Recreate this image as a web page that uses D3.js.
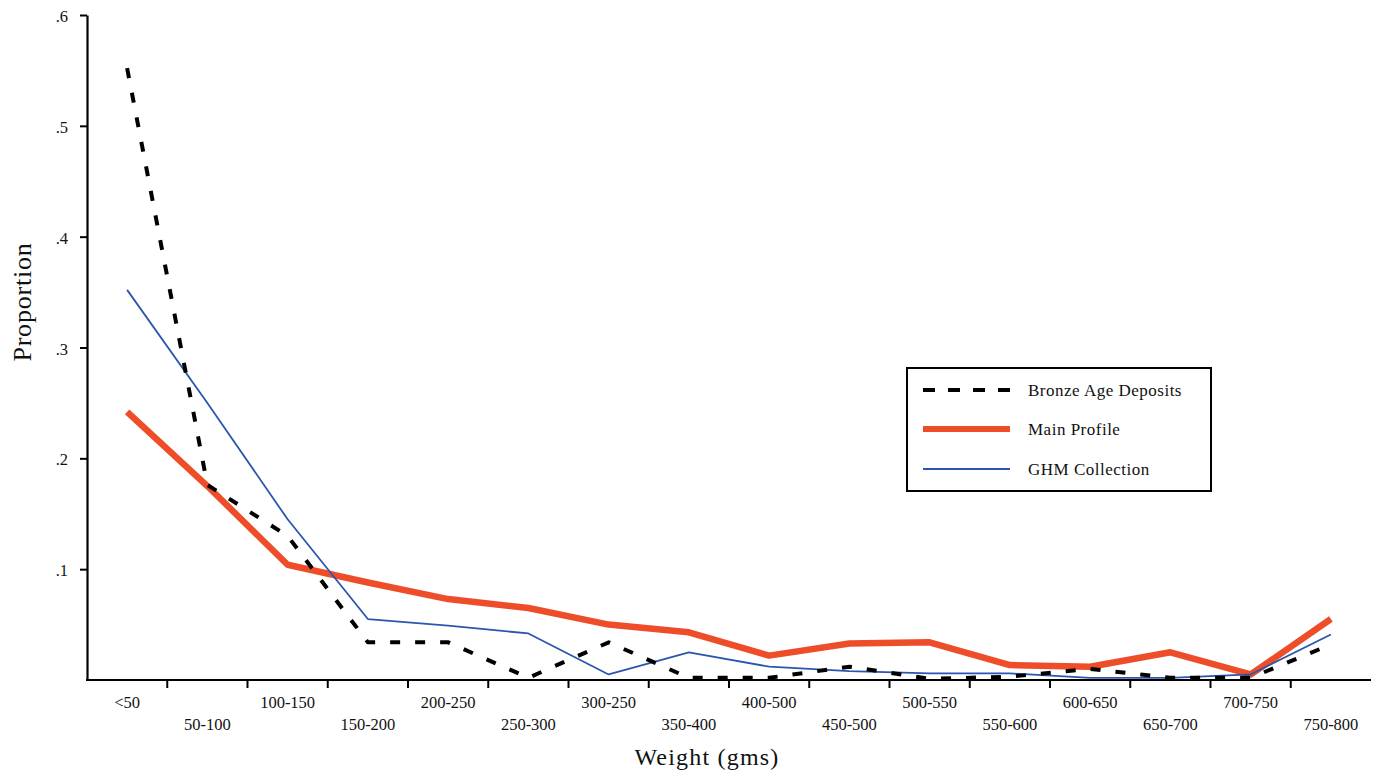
<!DOCTYPE html>
<html>
<head>
<meta charset="utf-8">
<script src="https://cdn.jsdelivr.net/npm/d3@7"></script>
<style>
  html, body { margin: 0; padding: 0; background: #fff; }
  svg { display: block; }
  text { font-family: "Liberation Serif", "Times New Roman", serif; fill: #111; }
</style>
</head>
<body>
<svg id="chart" width="1379" height="777"></svg>
<script>
const categories = ["<50","50-100","100-150","150-200","200-250","250-300","300-250","350-400",
  "400-500","450-500","500-550","550-600","600-650","650-700","700-750","750-800"];
const bronzeAge = [0.552, 0.176, 0.130, 0.034, 0.034, 0.002, 0.034, 0.002, 0.002, 0.012, 0.001, 0.003, 0.010, 0.002, 0.002, 0.032];
const mainProfile = [0.242, 0.175, 0.104, 0.088, 0.073, 0.065, 0.050, 0.043, 0.022, 0.033, 0.034, 0.0135, 0.012, 0.025, 0.005, 0.055];
const ghmCollection = [0.352, 0.250, 0.145, 0.055, 0.049, 0.042, 0.005, 0.025, 0.012, 0.008, 0.006, 0.006, 0.002, 0.002, 0.005, 0.041];
const yTicks = [0.1, 0.2, 0.3, 0.4, 0.5, 0.6];
const seriesNames = ["Bronze Age Deposits", "Main Profile", "GHM Collection"];

(function () {
const svg = d3.select("#chart");
const plotL = 87, plotR = 1371, plotT = 15, plotB = 680;

const xBand = d3.scaleBand().domain(categories).range([plotL, plotR]).paddingInner(0).paddingOuter(0);
const xPoint = d3.scalePoint().domain(categories).range([plotL, plotR]).padding(0.5);
const y = d3.scaleLinear().domain([0, 0.6]).range([plotB, plotT]);

// Y axis
const yAxis = d3.axisLeft(y).tickValues(yTicks).tickSize(7).tickSizeOuter(0)
  .tickFormat(d => d3.format(".1f")(d).replace(/^0/, ""));
const yg = svg.append("g").attr("transform", `translate(${plotL},0)`).call(yAxis);
yg.select(".domain").attr("stroke", "#000").attr("stroke-width", 2.2);
yg.selectAll(".tick line").attr("stroke", "#000").attr("stroke-width", 2);
yg.selectAll(".tick text").attr("x", -19).attr("dy", "0.4em")
  .style("font-family", '"Liberation Serif", serif').style("font-size", "16.5px").attr("fill", "#111");

// X axis line
svg.append("line").attr("x1", plotL - 1).attr("x2", plotR).attr("y1", plotB).attr("y2", plotB)
  .attr("stroke", "#000").attr("stroke-width", 2.2);
// X ticks at band boundaries
svg.append("g").selectAll("line").data(categories.slice(1)).join("line")
  .attr("x1", d => xBand(d)).attr("x2", d => xBand(d))
  .attr("y1", plotB).attr("y2", plotB + 8)
  .attr("stroke", "#000").attr("stroke-width", 2);
// X tick labels, staggered
svg.append("g").selectAll("text").data(categories).join("text")
  .attr("x", d => xPoint(d))
  .attr("y", (d, i) => i % 2 === 0 ? 708 : 730)
  .attr("text-anchor", "middle")
  .style("font-size", "16.5px")
  .text(d => d);

// Axis titles
svg.append("text").attr("x", 707).attr("y", 765).attr("text-anchor", "middle")
  .style("font-size", "24px").style("letter-spacing", "1.2px").text("Weight (gms)");
svg.append("text").attr("transform", "translate(31,302) rotate(-90)").attr("text-anchor", "middle")
  .style("font-size", "26px").style("letter-spacing", "0.8px").text("Proportion");

// Lines
const line = d3.line().x((d, i) => xPoint(categories[i])).y(d => y(d));
svg.append("path").datum(mainProfile).attr("d", line)
  .attr("fill", "none").attr("stroke", "#ee4d2a").attr("stroke-width", 6.5).attr("stroke-linejoin", "round");
svg.append("path").datum(ghmCollection).attr("d", line)
  .attr("fill", "none").attr("stroke", "#2b56ae").attr("stroke-width", 1.8).attr("stroke-linejoin", "round");
svg.append("path").datum(bronzeAge).attr("d", line)
  .attr("fill", "none").attr("stroke", "#000").attr("stroke-width", 4).attr("stroke-dasharray", "10,15");

// Legend
const lg = svg.append("g");
lg.append("rect").attr("x", 907).attr("y", 368).attr("width", 304).attr("height", 123)
  .attr("fill", "#fff").attr("stroke", "#000").attr("stroke-width", 2);
const legendStyles = [
  { stroke: "#000", width: 4, dash: "12,13" },
  { stroke: "#ee4d2a", width: 6, dash: null },
  { stroke: "#2b56ae", width: 1.8, dash: null }
];
const legendY = [390, 429, 469];
seriesNames.forEach((name, i) => {
  lg.append("line").attr("x1", 923).attr("x2", 1010).attr("y1", legendY[i]).attr("y2", legendY[i])
    .attr("stroke", legendStyles[i].stroke).attr("stroke-width", legendStyles[i].width)
    .attr("stroke-dasharray", legendStyles[i].dash);
  lg.append("text").attr("x", 1028).attr("y", legendY[i] + 6)
    .style("font-size", "17px").style("letter-spacing", "0.5px").text(name);
});
})();
</script>
</body>
</html>
